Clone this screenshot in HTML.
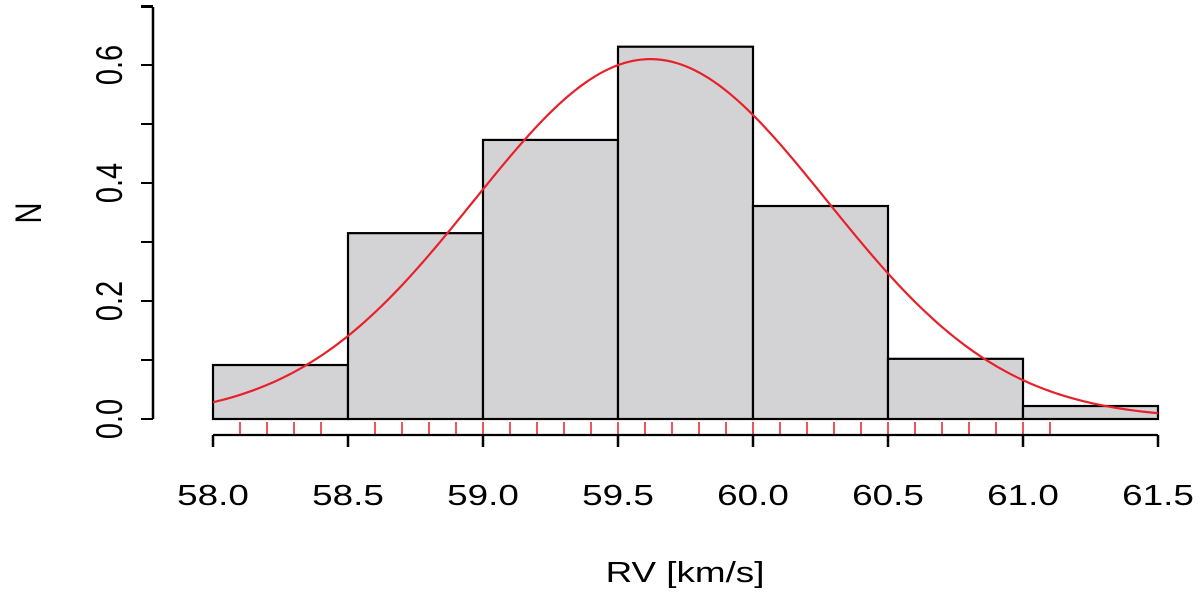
<!DOCTYPE html>
<html><head><meta charset="utf-8"><style>
body{margin:0;background:#fff}
svg text{font-family:"Liberation Sans",sans-serif;fill:#000}
</style></head><body>
<svg id="c" width="1200" height="595"></svg>
<script>
const binEdges=[58.0,58.5,59.0,59.5,60.0,60.5,61.0,61.5];
const densities=[0.0915,0.315,0.473,0.631,0.361,0.102,0.022];
const xTicks=["58.0","58.5","59.0","59.5","60.0","60.5","61.0","61.5"];
const yTicks=["0.0","0.2","0.4","0.6"];
const rugValues=[58.1,58.2,58.3,58.4,58.6,58.7,58.8,58.9,59.0,59.1,59.2,59.3,59.4,59.5,59.6,59.7,59.8,59.9,60.0,60.1,60.2,60.3,60.4,60.5,60.6,60.7,60.8,60.9,61.0,61.1];
const fitMean=59.62, fitSd=0.654;
const NS="http://www.w3.org/2000/svg";
const svg=document.getElementById('c');
const SX=1.27;
const X=v=>213+(v-58)*270;
const Y=v=>419-v*590;
function mk(t,a,p){const e=document.createElementNS(NS,t);for(const k in a)e.setAttribute(k,a[k]);(p||svg).appendChild(e);return e;}
const bars=mk('g',{});


densities.forEach((d,i)=>{
 const r=mk('rect',{x:X(binEdges[i]),y:Y(d),width:X(binEdges[i+1])-X(binEdges[i]),height:Y(0)-Y(d),fill:'#d3d3d6',stroke:'#000','stroke-width':2.2},bars);
 
 
});
let pts=[];
for(let k=0;k<=200;k++){const v=58+3.5*k/200;const d=Math.exp(-0.5*((v-fitMean)/fitSd)**2)/(fitSd*Math.sqrt(2*Math.PI));pts.push(X(v)+','+Y(d));}
const curve=mk('polyline',{points:pts.join(' '),fill:'none',stroke:'#e8202a','stroke-width':2.2});


const rug=mk('g',{});


rugValues.forEach(v=>{mk('line',{x1:X(v),x2:X(v),y1:422,y2:434,stroke:'#f04048','stroke-width':1.8},rug);});
const xa=mk('g',{});


mk('line',{x1:X(58),x2:X(61.5),y1:435,y2:435,stroke:'#000','stroke-width':2.2},xa);
xTicks.forEach(t=>{const x=X(parseFloat(t));mk('line',{x1:x,x2:x,y1:435,y2:447,stroke:'#000','stroke-width':2.5},xa);
 const tx=mk('text',{x:0,y:0,'font-size':29,'text-anchor':'middle',transform:`translate(${x},505) scale(${SX},1)`},xa);tx.textContent=t;});
const ya=mk('g',{});


mk('line',{x1:153,x2:153,y1:7,y2:419,stroke:'#000','stroke-width':2.5},ya);
[0,0.1,0.2,0.3,0.4,0.5,0.6,0.7].forEach(v=>{mk('line',{x1:141,x2:153,y1:Y(v),y2:Y(v),stroke:'#000','stroke-width':2},ya);});
mk('line',{x1:141,x2:153,y1:7,y2:7,stroke:'#000','stroke-width':2},ya);
yTicks.forEach(t=>{const y=Y(parseFloat(t));const tx=mk('text',{x:0,y:0,'font-size':29,'text-anchor':'middle',transform:`translate(122,${y}) scale(${SX},1) rotate(-90)`},ya);tx.textContent=t;});
const xt=mk('text',{x:0,y:0,'font-size':29,'text-anchor':'middle',transform:`translate(685,582) scale(${SX},1)`});xt.textContent='RV [km/s]';


const yt=mk('text',{x:0,y:0,'font-size':29,'text-anchor':'middle',transform:`translate(41,213) scale(${SX},1) rotate(-90)`});yt.textContent='N';


</script>
</body></html>
